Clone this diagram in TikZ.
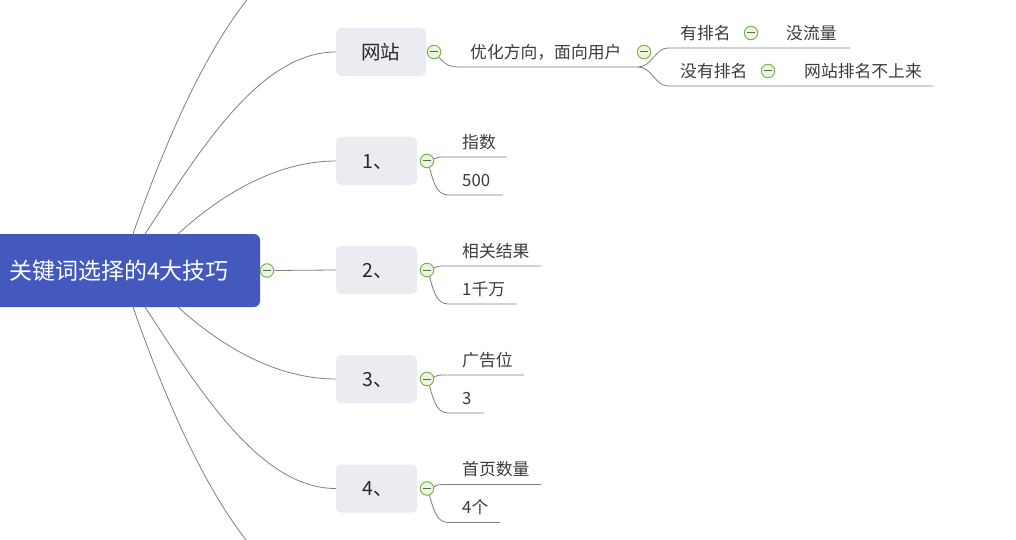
\documentclass[tikz,border=0pt]{standalone}
\usepackage{fontspec}
\setmainfont{Noto Sans CJK SC}
\definecolor{rootblue}{RGB}{68,89,190}
\definecolor{boxgray}{RGB}{235,236,241}
\definecolor{linegray}{RGB}{128,128,128}
\definecolor{foldgreen}{RGB}{118,184,72}
\definecolor{foldfill}{RGB}{236,245,228}
\definecolor{foldminus}{RGB}{90,105,80}
\definecolor{txtgray}{RGB}{60,60,60}
\definecolor{darktxt}{RGB}{40,40,40}
\begin{document}
\begin{tikzpicture}[x=1pt,y=-1pt,
  conn/.style={draw=linegray,line width=0.8pt},
  fold/.style={circle,draw=foldgreen,fill=foldfill,line width=1pt,minimum size=13.5pt,inner sep=0pt,
     path picture={\draw[foldminus,line width=1pt] ([xshift=-3.8pt]path picture bounding box.center) -- ([xshift=3.8pt]path picture bounding box.center);}},
  topicbox/.style={fill=boxgray,rounded corners=5pt,inner sep=0pt,minimum height=48pt},
  lbl/.style={anchor=base west,inner sep=0pt,text=txtgray,font=\fontsize{16.8}{18}\selectfont},
  blbl/.style={anchor=base west,inner sep=0pt,text=darktxt,font=\fontsize{19.5}{22}\selectfont}]
\useasboundingbox (0,0) rectangle (1016,540);
\clip (0,0) rectangle (1016,540);
\fill[white] (0,0) rectangle (1016,540);

% root
\node[fill=rootblue,rounded corners=6pt,minimum width=275pt,minimum height=73pt,inner sep=0pt] (root) at (122.5,270.5) {};
\node[anchor=base west,inner sep=0pt,text=white,font=\fontsize{23}{25}\selectfont] (roottxt) at (9,279.5) {关键词选择的4大技巧};

% topic boxes
\node[topicbox,minimum width=90pt] (web) at (381,52) {};
\node[topicbox,minimum width=81pt] (b1) at (376.5,161) {};
\node[topicbox,minimum width=81pt] (b2) at (376.5,270) {};
\node[topicbox,minimum width=81pt] (b3) at (376.5,379) {};
\node[topicbox,minimum width=81pt] (b4) at (376.5,488.5) {};
\node[blbl] (webt) at (361,59.4) {网站};
\node[blbl] (b1t) at (362,168.4) {1、};
\node[blbl] (b2t) at (362,277.4) {2、};
\node[blbl] (b3t) at (362,386.4) {3、};
\node[blbl] (b4t) at (362,495.9) {4、};

% root connectors
\coordinate (s1) at (133,234);
\coordinate (s2) at (145,234);
\coordinate (s3) at (178,234);
\coordinate (s4) at (178,307);
\coordinate (s5) at (145,307);
\coordinate (s6) at (133,307);
\coordinate (offtop) at (336,-57);
\coordinate (offbot) at (336,598);
\draw[conn] (s1) .. controls (184,88) and (255,-57) .. (offtop);
\draw[conn] (s2) .. controls (200,150) and (260,52) .. (web.west);
\draw[conn] (s3) .. controls (215,200) and (272,161) .. (b1.west);
\draw[conn] (s4) .. controls (215,341) and (272,379) .. (b3.west);
\draw[conn] (s5) .. controls (200,391) and (260,488.5) .. (b4.west);
\draw[conn] (s6) .. controls (184,453) and (255,598) .. (offbot);

\node[fold] (frt) at (267,270.5) {};
\draw[conn] (frt.east) -- (b2.west);

% website branch
\coordinate (w1) at (460,67);
\coordinate (w2) at (638,67);
\coordinate (w3) at (668,48);
\coordinate (w4) at (850,48);
\coordinate (w5) at (668,86);
\coordinate (w6) at (933,86);
\draw[conn] (437,55) .. controls (446,66) and (450,67) .. (w1) -- (w2);
\draw[conn] (w2) .. controls (652,67) and (655,48) .. (w3) -- (w4);
\draw[conn] (w2) .. controls (652,67) and (655,86) .. (w5) -- (w6);
\node[fold] (fw) at (434,52) {};
\node[fold] (fw2) at (644,52) {};
\node[fold] (fy) at (751,33) {};
\node[fold] (fn) at (768,71) {};
\node[lbl] (opt) at (470,58.4) {优化方向，面向用户};
\node[lbl] (you) at (680,39.4) {有排名};
\node[lbl] (mei) at (786,39.4) {没流量};
\node[lbl] (meiyou) at (680,77.4) {没有排名};
\node[lbl] (bushang) at (804,77.4) {网站排名不上来};

% numbered branches
\foreach \n/\y/\ea/\eb in {1/161/507/503, 2/270/541/517, 3/379/524/484, 4/488.5/541/500}{
  \draw[conn] (432,\y-1) .. controls (438,\y-4) .. (446,\y-4) -- (\ea,\y-4);
  \draw[conn] (429,\y+5) .. controls (433,\y+19) and (436,\y+34) .. (448,\y+34) -- (\eb,\y+34);
  \node[fold] (f\n) at (427,\y) {};
}
\node[lbl] (c1a) at (462,148.4) {指数};
\node[lbl] (c1b) at (462,186.3) {500};
\node[lbl] (c2a) at (462,257.4) {相关结果};
\node[lbl] (c2b) at (462,295.4) {1千万};
\node[lbl] (c3a) at (462,366.4) {广告位};
\node[lbl] (c3b) at (462,404.3) {3};
\node[lbl] (c4a) at (462,475.4) {首页数量};
\node[lbl] (c4b) at (462,513.4) {4个};
\end{tikzpicture}
\end{document}
